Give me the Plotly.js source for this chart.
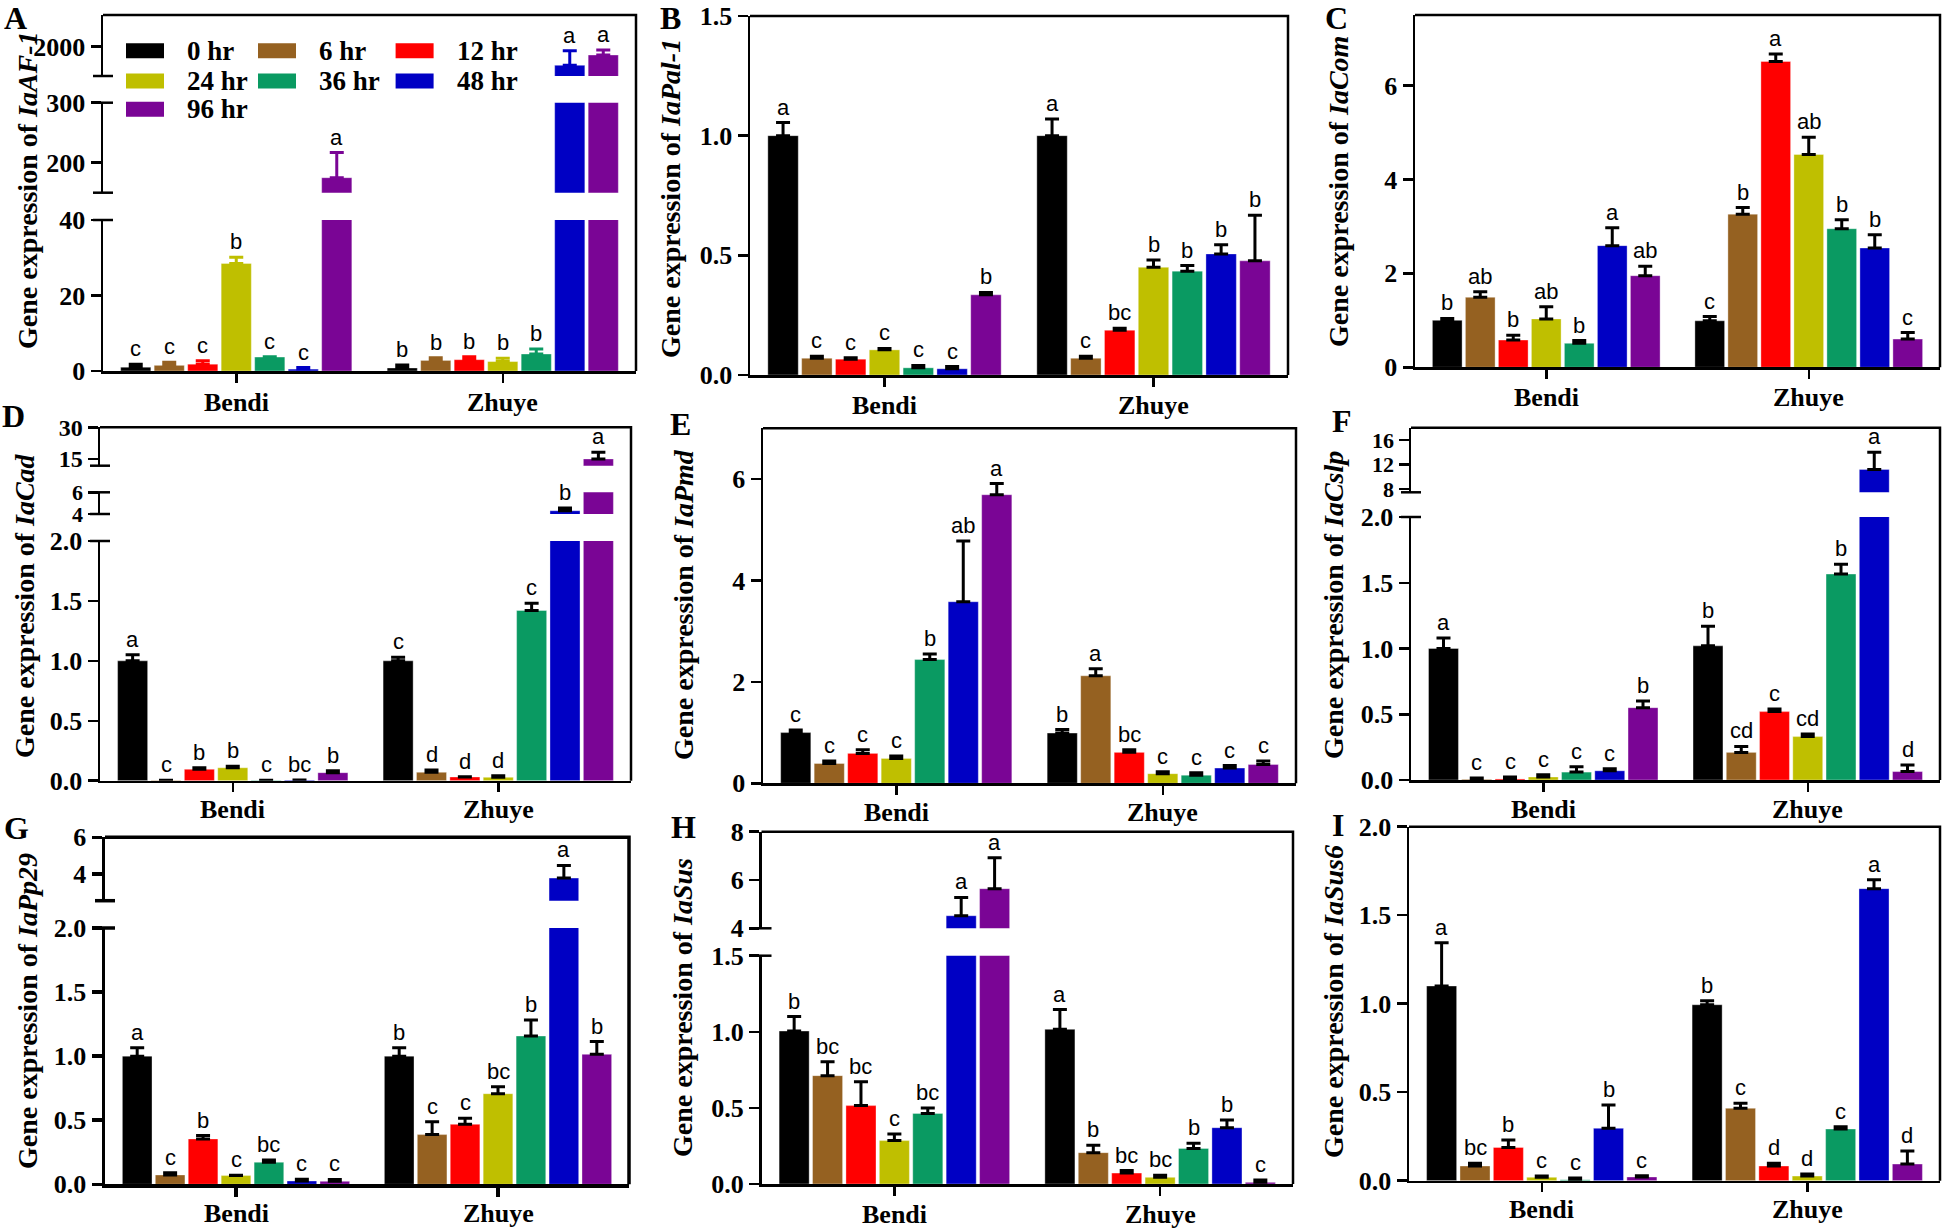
<!DOCTYPE html>
<html><head><meta charset="utf-8">
<script src="https://cdn.plot.ly/plotly-3.0.1.min.js"></script>
<style>html,body{margin:0;padding:0;background:#fff}#chart{width:1946px;height:1230px}</style>
</head><body><div id="chart"></div>
<script>
// ---------------- data ----------------
const groups = ['Bendi', 'Zhuye'];
const times = ['0 hr', '6 hr', '12 hr', '24 hr', '36 hr', '48 hr', '96 hr'];
const colors = ['#000000', '#956121', '#ff0000', '#bfbf00', '#0a9a62', '#0000c4', '#7a0595'];

// A  IaAF-1
const A_mean = [[1.0, 1.5, 1.8, 28.5, 3.7, 0.5, 175], [0.8, 2.8, 3.0, 2.5, 4.5, 1682, 1858]];
const A_err  = [[0.8, 0.8, 0.9, 1.6, 0.1, 0.4, 42], [0.8, 0.7, 0.8, 0.9, 1.3, 250, 85]];
const A_sig  = [['c','c','c','b','c','c','a'], ['b','b','b','b','b','a','a']];
// B  IaPal-1
const B_mean = [[1.0, 0.07, 0.066, 0.105, 0.03, 0.026, 0.335], [1.0, 0.07, 0.187, 0.45, 0.434, 0.506, 0.477]];
const B_err  = [[0.055, 0.008, 0.006, 0.006, 0.01, 0.009, 0.01], [0.07, 0.008, 0.008, 0.03, 0.023, 0.038, 0.19]];
const B_sig  = [['a','c','c','c','c','c','b'], ['a','c','bc','b','b','b','b']];
// C  IaCom
const C_mean = [[1.0, 1.49, 0.58, 1.03, 0.51, 2.59, 1.95], [0.99, 3.26, 6.51, 4.53, 2.95, 2.54, 0.6]];
const C_err  = [[0.04, 0.12, 0.1, 0.26, 0.06, 0.38, 0.2], [0.09, 0.14, 0.16, 0.37, 0.19, 0.28, 0.14]];
const C_sig  = [['b','ab','b','ab','b','a','ab'], ['c','b','a','ab','b','b','c']];
// D  IaCad
const D_mean = [[1.0, 0.004, 0.095, 0.108, 0.003, 0.006, 0.067], [1.0, 0.07, 0.031, 0.028, 1.42, 4.3, 15.0]];
const D_err  = [[0.05, 0.0, 0.013, 0.012, 0.0, 0.0, 0.015], [0.03, 0.02, 0.003, 0.014, 0.06, 0.25, 3.2]];
const D_sig  = [['a','c','b','b','c','bc','b'], ['c','d','d','d','c','b','a']];
// E  IaPmd
const E_mean = [[1.0, 0.39, 0.59, 0.49, 2.44, 3.58, 5.69], [0.99, 2.12, 0.61, 0.19, 0.16, 0.30, 0.37]];
const E_err  = [[0.05, 0.05, 0.07, 0.05, 0.11, 1.2, 0.22], [0.07, 0.14, 0.05, 0.04, 0.05, 0.05, 0.07]];
const E_sig  = [['c','c','c','c','b','ab','a'], ['b','a','bc','c','c','c','c']];
// F  IaCslp
const F_mean = [[1.0, 0.005, 0.008, 0.023, 0.06, 0.07, 0.55], [1.02, 0.21, 0.52, 0.33, 1.566, 11.2, 0.064]];
const F_err  = [[0.08, 0.01, 0.015, 0.017, 0.04, 0.015, 0.05], [0.15, 0.045, 0.02, 0.02, 0.074, 2.8, 0.05]];
const F_sig  = [['a','c','c','c','c','c','b'], ['b','cd','c','cd','b','a','d']];
// G  IaPp29
const G_mean = [[1.0, 0.073, 0.354, 0.068, 0.172, 0.026, 0.023], [1.0, 0.388, 0.468, 0.707, 1.157, 3.78, 1.014]];
const G_err  = [[0.065, 0.017, 0.026, 0.003, 0.018, 0.013, 0.015], [0.065, 0.1, 0.047, 0.055, 0.125, 0.69, 0.1]];
const G_sig  = [['a','c','b','c','bc','c','c'], ['b','c','c','bc','b','a','b']];
// H  IaSus
const H_mean = [[1.005, 0.712, 0.515, 0.285, 0.464, 4.52, 5.64], [1.016, 0.206, 0.072, 0.044, 0.234, 0.37, 0.011]];
const H_err  = [[0.095, 0.092, 0.157, 0.044, 0.036, 0.76, 1.28], [0.13, 0.048, 0.016, 0.013, 0.033, 0.05, 0.015]];
const H_sig  = [['b','bc','bc','c','bc','a','a'], ['a','b','bc','bc','b','b','c']];
// I  IaSus6
const I_mean = [[1.10, 0.083, 0.188, 0.019, 0.006, 0.296, 0.021], [0.994, 0.409, 0.083, 0.026, 0.292, 1.65, 0.094]];
const I_err  = [[0.245, 0.015, 0.042, 0.007, 0.009, 0.132, 0.007], [0.023, 0.028, 0.015, 0.012, 0.013, 0.05, 0.074]];
const I_sig  = [['a','bc','b','c','c','b','c'], ['b','c','d','d','c','a','d']];

// ---------------- layout helpers ----------------
const W = 1946, H = 1230;
const SERIF = '"Liberation Serif","Times New Roman",serif';
const SANS = '"Liberation Sans",Arial,sans-serif';
const BARGAP = 0.12, GROUPGAP = 0.1;

const panels = [
  {id:'A', gene:'IaAF-1', mean:A_mean, err:A_err, sig:A_sig, x0:103, x1:636, colorErr:true, lw:2.5, catDy:31,
   segs:[{yb:371, yt:220, range:[0,40], ticks:[0,20,40], dec:0},
         {yb:192.7, yt:102.7, range:[150,300], ticks:[200,300], dec:0},
         {yb:76, yt:15, range:[1500,2540], ticks:[2000], dec:0}],
   letter:[15,18], title:[27,190]},
  {id:'B', gene:'IaPal-1', mean:B_mean, err:B_err, sig:B_sig, x0:750, x1:1288, lw:2.5, catDy:30,
   segs:[{yb:375, yt:16, range:[0,1.5], ticks:[0,0.5,1,1.5], dec:1}],
   letter:[670,18], title:[671,199]},
  {id:'C', gene:'IaCom', mean:C_mean, err:C_err, sig:C_sig, x0:1415, x1:1940, lw:2.5, catDy:30,
   segs:[{yb:367.3, yt:15, range:[0,7.5], ticks:[0,2,4,6], dec:0}],
   letter:[1336,18], title:[1338,192]},
  {id:'D', gene:'IaCad', mean:D_mean, err:D_err, sig:D_sig, x0:100, x1:631, lw:2.5, catDy:29,
   segs:[{yb:780.7, yt:541, range:[0,2], ticks:[0,0.5,1,1.5,2], dec:1},
         {yb:514, yt:492.3, range:[4,6], ticks:[4,6], dec:0, fs:22},
         {yb:465.7, yt:427.3, range:[11.8,30], ticks:[15,30], dec:0, fs:24}],
   letter:[13,416], title:[24,606]},
  {id:'E', gene:'IaPmd', mean:E_mean, err:E_err, sig:E_sig, x0:763, x1:1296, lw:2.5, catDy:29,
   segs:[{yb:783.3, yt:428.3, range:[0,7], ticks:[0,2,4,6], dec:0}],
   letter:[680,424], title:[683,605]},
  {id:'F', gene:'IaCslp', mean:F_mean, err:F_err, sig:F_sig, x0:1411, x1:1940, lw:2.5, catDy:29,
   segs:[{yb:780, yt:517, range:[0,2], ticks:[0,0.5,1,1.5,2], dec:1},
         {yb:492.3, yt:427.7, range:[7.46,18], ticks:[8,12,16], dec:0, fs:22}],
   letter:[1342,421], title:[1333,605]},
  {id:'G', gene:'IaPp29', mean:G_mean, err:G_err, sig:G_sig, x0:105, x1:629, lw:3.5, catDy:29,
   segs:[{yb:1184.3, yt:928, range:[0,2], ticks:[0,0.5,1,1.5,2], dec:1},
         {yb:900.7, yt:837.3, range:[2.55,6], ticks:[4,6], dec:0}],
   letter:[16,828], title:[28,1011]},
  {id:'H', gene:'IaSus', mean:H_mean, err:H_err, sig:H_sig, x0:761.5, x1:1293, lw:2.5, catDy:30,
   segs:[{yb:1184, yt:955.7, range:[0,1.5], ticks:[0,0.5,1,1.5], dec:1},
         {yb:928.3, yt:831.7, range:[4,8], ticks:[4,6,8], dec:0}],
   letter:[683,827], title:[683,1008]},
  {id:'I', gene:'IaSus6', mean:I_mean, err:I_err, sig:I_sig, x0:1409, x1:1940, lw:2.5, catDy:29,
   segs:[{yb:1180.7, yt:826.7, range:[0,2], ticks:[0,0.5,1,1.5,2], dec:1}],
   letter:[1338,825], title:[1334,1002]}
];

// legend placement (panel A)
const legCols = [126, 258, 395.6];
const legRows = [50.7, 81, 109.3];

const traces = [];
const layout = {
  width: W, height: H, margin: {l:0, r:0, t:0, b:0},
  paper_bgcolor: '#ffffff', plot_bgcolor: 'rgba(0,0,0,0)',
  barmode: 'group', bargap: BARGAP, bargroupgap: GROUPGAP,
  showlegend: false, annotations: [], shapes: []
};
const fx = x => x / W;
const fy = y => 1 - y / H;

let k = 0;
panels.forEach(P => {
  const base = k + 1;
  P.segs.forEach((s, si) => {
    k++;
    const suf = k > 1 ? String(k) : '';
    layout['xaxis' + suf] = {
      domain: [fx(P.x0), fx(P.x1)], anchor: 'y' + suf, type: 'category',
      range: [-0.5, 1.5], visible: si === 0, showticklabels: false,
      showline: true, linewidth: P.lw, linecolor: '#000', mirror: false,
      ticks: 'outside', ticklen: 9, tickwidth: P.lw, tickcolor: '#000',
      showgrid: false, zeroline: false, fixedrange: true
    };
    layout['yaxis' + suf] = {
      domain: [fy(s.yb), fy(s.yt)], anchor: 'x' + suf, range: s.range,
      tickmode: 'array', tickvals: s.ticks, ticktext: s.ticks.map(v => v.toFixed(s.dec)),
      showline: true, linewidth: P.lw, linecolor: '#000',
      ticks: 'outside', ticklen: 10, tickwidth: P.lw, tickcolor: '#000',
      tickfont: {family: SERIF, size: s.fs || 26, color: '#000', weight: 'bold'},
      showgrid: false, zeroline: false, fixedrange: true
    };
    times.forEach((t, i) => {
      traces.push({
        type: 'bar', name: t, x: groups,
        y: [P.mean[0][i], P.mean[1][i]],
        xaxis: 'x' + suf, yaxis: 'y' + suf,
        marker: {color: colors[i], line: {color: 'rgba(255,255,255,0.35)', width: 1}},
        error_y: {type: 'data', symmetric: false,
                  array: [P.err[0][i], P.err[1][i]], arrayminus: [0, 0],
                  color: P.colorErr ? colors[i] : '#000', thickness: 3, width: 7},
        hoverinfo: 'skip', showlegend: false
      });
    });
    // break caps
    const last = P.segs.length - 1;
    const cap = y => layout.shapes.push({type: 'line', xref: 'paper', yref: 'paper',
      x0: fx(P.x0 - 10), x1: fx(P.x0 + 10), y0: fy(y), y1: fy(y),
      line: {color: '#000', width: P.lw}});
    if (si > 0) cap(s.yb);
    if (si < last) cap(s.yt);
  });
  // frame (top + right)
  const top = P.segs[P.segs.length - 1].yt, bot = P.segs[0].yb;
  layout.shapes.push({type: 'path', xref: 'paper', yref: 'paper',
    path: `M ${fx(P.x0)},${fy(top)} L ${fx(P.x1)},${fy(top)} L ${fx(P.x1)},${fy(bot)}`,
    line: {color: '#000', width: P.lw}});
  // category labels
  const bsuf = base > 1 ? String(base) : '';
  groups.forEach((gname, g) => {
    layout.annotations.push({xref: 'x' + bsuf, yref: 'paper', x: g, y: fy(bot + P.catDy),
      text: '<b>' + gname + '</b>', showarrow: false, xanchor: 'center', yanchor: 'middle',
      font: {family: SERIF, size: 26, color: '#000'}});
  });
  // significance letters
  const slot = (1 - BARGAP) / times.length;
  [0, 1].forEach(g => {
    times.forEach((t, i) => {
      const topv = P.mean[g][i] + P.err[g][i];
      let si = P.segs.length - 1;
      while (si > 0 && topv < P.segs[si].range[0]) si--;
      const kk = base + si, suf = kk > 1 ? String(kk) : '';
      layout.annotations.push({
        xref: 'x' + suf, yref: 'y' + suf,
        x: g + (i - (times.length - 1) / 2) * slot, y: topv,
        text: P.sig[g][i], showarrow: false, xanchor: 'center', yanchor: 'bottom', yshift: 1,
        font: {family: SANS, size: 22, color: '#000'}
      });
    });
  });
  // panel letter
  layout.annotations.push({xref: 'paper', yref: 'paper', x: fx(P.letter[0]), y: fy(P.letter[1]),
    text: '<b>' + P.id + '</b>', showarrow: false, xanchor: 'center', yanchor: 'middle',
    font: {family: SERIF, size: 32, color: '#000'}});
  // y title
  layout.annotations.push({xref: 'paper', yref: 'paper', x: fx(P.title[0]), y: fy(P.title[1]),
    text: '<b>Gene expression of <i>' + P.gene + '</i></b>', showarrow: false, textangle: -90,
    xanchor: 'center', yanchor: 'middle',
    font: {family: SERIF, size: 28, color: '#000'}});
});

// legend for panel A
times.forEach((t, i) => {
  const r = Math.floor(i / 3), c = i % 3;
  const x = legCols[c], y = legRows[r];
  layout.shapes.push({type: 'rect', xref: 'paper', yref: 'paper',
    x0: fx(x), x1: fx(x + 38), y0: fy(y + 7.5), y1: fy(y - 7.5),
    fillcolor: colors[i], line: {width: 0}});
  layout.annotations.push({xref: 'paper', yref: 'paper', x: fx(x + 59), y: fy(y),
    text: '<b>' + t + '</b>', showarrow: false, xanchor: 'left', yanchor: 'middle',
    font: {family: SERIF, size: 27, color: '#000'}});
});

Plotly.newPlot('chart', traces, layout, {displayModeBar: false, staticPlot: true});
</script>
</body></html>
